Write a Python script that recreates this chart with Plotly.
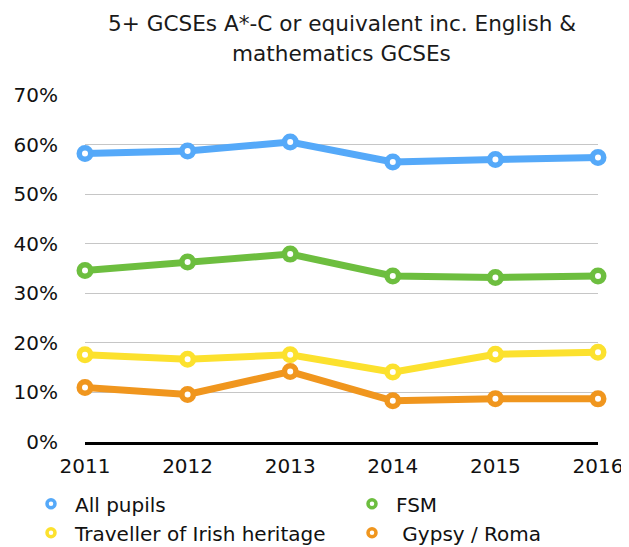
import plotly.graph_objects as go

years = [2011, 2012, 2013, 2014, 2015, 2016]
year_labels = ["2011", "2012", "2013", "2014", "2015", "2016"]
series_names = ["All pupils", "FSM", "Traveller of Irish heritage", " Gypsy / Roma"]
all_pupils = [58.2, 58.7, 60.5, 56.5, 57.0, 57.4]
fsm = [34.6, 36.3, 37.9, 33.5, 33.2, 33.5]
traveller = [17.6, 16.7, 17.6, 14.1, 17.7, 18.1]
gypsy_roma = [11.0, 9.6, 14.2, 8.3, 8.75, 8.7]
y_ticks = [0, 10, 20, 30, 40, 50, 60, 70]
y_tick_labels = ["0%", "10%", "20%", "30%", "40%", "50%", "60%", "70%"]
title_lines = ["5+ GCSEs A*-C or equivalent inc. English &", "mathematics GCSEs"]

colors = ["#55A9F9", "#6DBE3F", "#FCE12E", "#F0961E"]
values = [all_pupils, fsm, traveller, gypsy_roma]
legend_of = ["legend", "legend2", "legend", "legend2"]

FONT = "DejaVu Sans, Verdana, sans-serif"

fig = go.Figure()
for name, vals, col in zip(series_names, values, colors):
    fig.add_trace(go.Scatter(
        x=years, y=vals, mode="lines+markers", name=name, showlegend=False,
        line=dict(color=col, width=7),
        marker=dict(symbol="circle", size=11.5, color="white", line=dict(color=col, width=5.5)),
        cliponaxis=False, hoverinfo="x+y",
    ))
for name, col, lg in zip(series_names, colors, legend_of):
    fig.add_trace(go.Scatter(
        x=[None], y=[None], mode="markers", name=name, showlegend=True, legend=lg,
        marker=dict(symbol="circle", size=8, color="white", line=dict(color=col, width=3.5)),
    ))

# page coordinates of the plot area (page has an 8px body margin)
PLOT_L, PLOT_R, PLOT_T, PLOT_B = 85.0, 598.0, 94.7, 441.7
def py(px):
    return (PLOT_B - px) / (PLOT_B - PLOT_T)
def pxx(px):
    return (px - PLOT_L) / (PLOT_R - PLOT_L)

fig.add_annotation(text=title_lines[0], xref="paper", yref="paper", x=0.5, y=py(23),
                   xanchor="center", yanchor="middle", showarrow=False,
                   font=dict(family=FONT, size=21.6, color="#1a1a1a"))
fig.add_annotation(text=title_lines[1], xref="paper", yref="paper", x=0.5, y=py(53),
                   xanchor="center", yanchor="middle", showarrow=False,
                   font=dict(family=FONT, size=21.6, color="#1a1a1a"))

W, H = 629, 547
fig.update_layout(
    width=W, height=H,
    margin=dict(l=PLOT_L - 8, r=W - (PLOT_R - 8), t=PLOT_T - 8, b=H - (PLOT_B - 8),
                autoexpand=False),
    paper_bgcolor="white", plot_bgcolor="white",
    font=dict(family=FONT, size=20, color="#111111"),
    xaxis=dict(range=[2011, 2016], tickvals=years, ticktext=year_labels,
               showgrid=False, zeroline=False, showline=True, linecolor="black", linewidth=3,
               ticks="", ticklabelstandoff=4, fixedrange=True),
    yaxis=dict(range=[0, 70], tickvals=y_ticks, ticktext=y_tick_labels,
               showgrid=True, gridcolor="#C6C6C6", gridwidth=1, zeroline=False,
               showline=False, ticks="", ticklabelstandoff=26, fixedrange=True),
    legend=dict(orientation="v", x=pxx(27), xanchor="left", y=py(484), yanchor="top",
                font=dict(size=20), tracegroupgap=0, itemwidth=38, bgcolor="rgba(0,0,0,0)"),
    legend2=dict(orientation="v", x=pxx(348), xanchor="left", y=py(484), yanchor="top",
                 font=dict(size=20), tracegroupgap=0, itemwidth=38, bgcolor="rgba(0,0,0,0)"),
    showlegend=True,
)

fig.write_html("out.html")
